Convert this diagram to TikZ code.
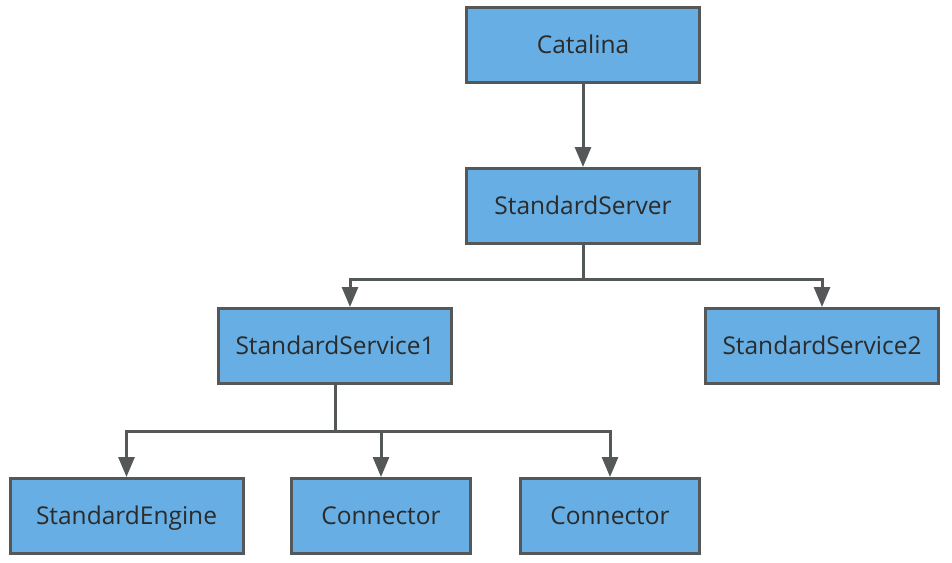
\documentclass[tikz,border=0pt]{standalone}
\usepackage{fontspec}
\setmainfont{Open Sans}
\usetikzlibrary{arrows.meta}
\definecolor{boxfill}{HTML}{66AEE3}
\definecolor{boxline}{HTML}{555859}
\definecolor{txt}{HTML}{2B2B2B}
\begin{document}
\begin{tikzpicture}[x=1pt,y=-1pt,
  box/.style={draw=boxline, line width=3pt, fill=boxfill, minimum height=75pt,
    inner sep=0pt, text=txt, text height=20pt, text depth=2.5pt,
    font=\fontsize{24.5}{28}\selectfont},
  wide/.style={box, minimum width=233pt},
  narrow/.style={box, minimum width=179pt},
  arr/.style={draw=boxline, line width=3pt, -{Triangle[width=16pt,length=20pt]}},
  ln/.style={draw=boxline, line width=3pt}]
\useasboundingbox (0,0) rectangle (952,562);
\node[wide] (cat) at (583,45) {Catalina};
\node[wide] (srv) at (583,206) {StandardServer};
\node[wide] (svc1) at (335,346) {StandardService1};
\node[wide] (svc2) at (822,346) {StandardService2};
\node[wide] (eng) at (126.5,516) {StandardEngine};
\node[narrow] (con1) at (381,516) {Connector};
\node[narrow] (con2) at (610,516) {Connector};
\coordinate (j1) at (583,279);
\coordinate (j2) at (335,431);
\draw[arr] (cat) -- (srv);
\draw[ln] (srv.south) -- (j1);
\draw[arr] (j1) -| ([xshift=15pt]svc1.north);
\draw[arr] (j1) -| (svc2.north);
\draw[ln] (svc1.south) -- (j2);
\draw[arr] (j2) -| (eng.north);
\draw[arr] (j2) -| (con1.north);
\draw[arr] (j2) -| (con2.north);
\end{tikzpicture}
\end{document}
